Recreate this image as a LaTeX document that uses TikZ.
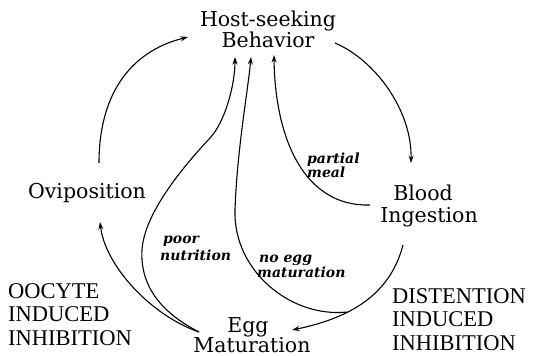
\documentclass[tikz,border=0pt]{standalone}
\usepackage{fontspec}
\usetikzlibrary{arrows.meta}
\newfontfamily\mainf{DejaVu Serif}
\newfontfamily\capf{Liberation Serif}
\begin{document}
\begin{tikzpicture}[x=1pt,y=-1pt,
  lbl/.style={inner sep=0pt,anchor=base,font=\mainf\fontsize{20.5}{21}\selectfont},
  caplbl/.style={inner sep=0pt,anchor=base west,font=\capf\fontsize{22.5}{23}\selectfont},
  itl/.style={inner sep=0pt,anchor=base west,font=\mainf\bfseries\itshape\fontsize{14}{15}\selectfont},
  conn/.style={line width=1.1pt,-{Stealth[length=7.5pt,width=5pt]}}]
\useasboundingbox (0,0) rectangle (539,356);
% labels
\node[lbl] (hs1) at (268,27) {Host-seeking};
\node[lbl] (hs2) at (268,47) {Behavior};
\node[lbl] (ov) at (87,198) {Oviposition};
\node[lbl] (bi1) at (423,200) {Blood};
\node[lbl] (bi2) at (429,222) {Ingestion};
\node[lbl] (em1) at (248,332) {Egg};
\node[lbl] (em2) at (252,352) {Maturation};
\node[caplbl] (oc1) at (8,298) {OOCYTE};
\node[caplbl] (oc2) at (8,321) {INDUCED};
\node[caplbl] (oc3) at (8,345) {INHIBITION};
\node[caplbl] (di1) at (392,303) {DISTENTION};
\node[caplbl] (di2) at (392,326) {INDUCED};
\node[caplbl] (di3) at (392,350) {INHIBITION};
\node[itl] (pn1) at (163,243) {poor};
\node[itl] (pn2) at (160,260) {nutrition};
\node[itl] (ne1) at (259,262) {no egg};
\node[itl] (ne2) at (257,277) {maturation};
\node[itl] (pm1) at (307,163) {partial};
\node[itl] (pm2) at (307,177) {meal};
% connector end points
\coordinate (ovTop) at (99,163);
\coordinate (hsL) at (188,37);
\coordinate (hsR) at (335,43);
\coordinate (biTop) at (411,163);
\coordinate (biL) at (370,205);
\coordinate (hsA3) at (274,55);
\coordinate (biBot) at (403,245);
\coordinate (emR) at (292,330);
\coordinate (hsA2) at (251,57);
\coordinate (hsA1) at (235,57);
\coordinate (emL) at (199,332);
\coordinate (ovBot) at (100,222);
% connectors
\draw[conn] (ovTop) .. controls (99,97) and (128,52) .. (hsL);
\draw[conn] (hsR) .. controls (375,60) and (412,110) .. (biTop);
\draw[conn] (biL) .. controls (305,207) and (275,140) .. (hsA3);
\draw[conn] (biBot) .. controls (390,295) and (350,318) .. coordinate[pos=0.64] (jn) (emR);
\draw[conn] (jn) .. controls (290,318) and (233,270) .. (235,210) .. controls (237,150) and (248,90) .. (hsA2);
\draw[conn] (emL) .. controls (160,312) and (140,285) .. (142,250) .. controls (144,215) and (180,170) .. (210,138) .. controls (225,122) and (235,85) .. (hsA1);
\draw[conn] (emL) .. controls (150,315) and (105,265) .. (ovBot);
\end{tikzpicture}
\end{document}
